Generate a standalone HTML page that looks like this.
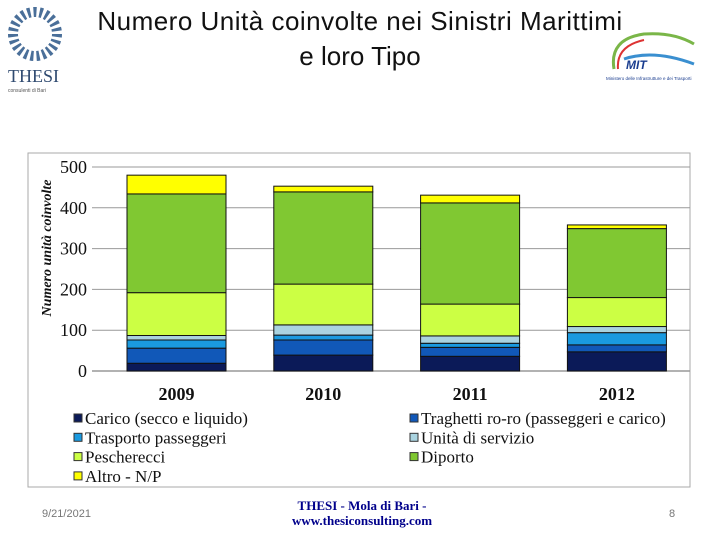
<!DOCTYPE html>
<html><head><meta charset="utf-8"><style>
body{margin:0;width:720px;height:540px;background:#fff;overflow:hidden;position:relative;font-family:"Liberation Sans",sans-serif}
.t{position:absolute;left:0;width:720px;text-align:center;font-size:27px;color:#111;font-family:"Liberation Sans",sans-serif}
</style></head><body>
<div class="t" style="top:6px;left:0px;font-size:26px;letter-spacing:0.5px">Numero Unità coinvolte nei Sinistri Marittimi</div>
<div class="t" style="top:41px;font-size:26px">e loro Tipo</div>
<svg width="70" height="95" style="position:absolute;left:2px;top:2px">
<circle cx="33" cy="32" r="22" fill="none" stroke="#4a6f99" stroke-width="10" stroke-dasharray="3 3"/>
<text x="6" y="80" font-family="Liberation Serif" font-size="18" fill="#2f4a70">THESI</text>
<text x="6" y="90" font-size="5" fill="#555">consulenti di Bari</text>
</svg>
<svg width="100" height="60" style="position:absolute;left:604px;top:24px">
<path d="M10 45 Q5 15 40 10 Q70 8 90 20" fill="none" stroke="#7ab648" stroke-width="3"/>
<path d="M14 45 Q12 22 40 16" fill="none" stroke="#d33" stroke-width="2"/>
<path d="M20 35 Q50 25 90 40" fill="none" stroke="#3a8fd0" stroke-width="3"/>
<text x="22" y="45" font-size="12" font-weight="bold" font-style="italic" fill="#1a3d8f">MIT</text>
<text x="2" y="56" font-size="4.5" fill="#1a3d8f">Ministero delle Infrastrutture e dei Trasporti</text>
</svg>
<svg id="chart" width="720" height="540" style="position:absolute;left:0;top:0"></svg>
<div style="position:absolute;left:42px;top:508px;font-size:11px;color:#777">9/21/2021</div>
<div style="position:absolute;left:262px;top:498px;width:200px;text-align:center;font-family:'Liberation Serif',serif;font-size:13px;font-weight:bold;color:#00008b;line-height:15px">THESI - Mola di Bari -<br>www.thesiconsulting.com</div>
<div style="position:absolute;left:669px;top:508px;font-size:11px;color:#777">8</div>
<script>
const categories=["2009","2010","2011","2012"];
const seriesNames=["Carico (secco e liquido)","Traghetti ro-ro (passeggeri e carico)","Trasporto passeggeri","Unità di servizio","Pescherecci","Diporto","Altro - N/P"];
const carico=[19,39,36,47];
const traghetti=[37,37,22,17];
const trasporto=[20,12,10,30];
const servizio=[11,25,18,15];
const pescherecci=[105,100,78,71];
const diporto=[242,226,248,169];
const altro=[46,14,19,9];
const yTicks=[0,100,200,300,400,500];
const colors=["#0b1a58","#1158b8","#1a9ae0","#a9d3e0","#ccff44","#80c832","#ffff00"];
const series=[carico,traghetti,trasporto,servizio,pescherecci,diporto,altro];
const NS="http://www.w3.org/2000/svg";
const svg=document.getElementById('chart');
function mk(t,a,p){const e=document.createElementNS(NS,t);for(const k in a)e.setAttribute(k,a[k]);(p||svg).appendChild(e);return e;}
const y0=371,y1=167,vmax=500;
const y=v=>y0-(v/vmax)*(y0-y1);
const xL=92,xR=690,bw=99;
const x=i=>127+i*146.8;
const box=mk('rect',{x:28,y:153,width:662,height:334,fill:'none',stroke:'#aaa','stroke-width':1});

yTicks.forEach(t=>{
 const l=mk('line',{x1:xL,x2:xR,y1:y(t),y2:y(t),stroke:'#999','stroke-width':t==0?1.5:1});
 
 const tx=mk('text',{x:87,y:y(t)+6,'text-anchor':'end','font-size':18,'font-family':'Liberation Serif',fill:'#111'});
 tx.textContent=t;
});
const yt=mk('text',{transform:'translate(51,248) rotate(-90)','text-anchor':'middle','font-size':14,'font-style':'italic','font-weight':'bold','font-family':'Liberation Serif',fill:'#111'});
yt.textContent='Numero unità coinvolte';
categories.forEach((c,i)=>{
 let acc=0;
 series.forEach((s,k)=>{
  const v=s[i];
  const r=mk('rect',{x:x(i),y:y(acc+v),width:bw,height:y(acc)-y(acc+v),fill:colors[k],stroke:'#111','stroke-width':1});
  
  acc+=v;
 });
 const tx=mk('text',{x:x(i)+bw/2,y:400,'text-anchor':'middle','font-size':18,'font-weight':'bold','font-family':'Liberation Serif',fill:'#111'});
 tx.textContent=c;
});
seriesNames.forEach((n,k)=>{
 const col=k%2,row=Math.floor(k/2);
 const lx=col?410:74,ly=418+row*19.3;
 const sq=mk('rect',{x:lx,y:ly-4,width:8,height:8,fill:colors[k],stroke:'#333','stroke-width':1});
 
 const tx=mk('text',{x:lx+11,y:ly+6,'font-size':17,'font-family':'Liberation Serif',fill:'#111'});
 tx.textContent=n;
});
</script>
</body></html>
